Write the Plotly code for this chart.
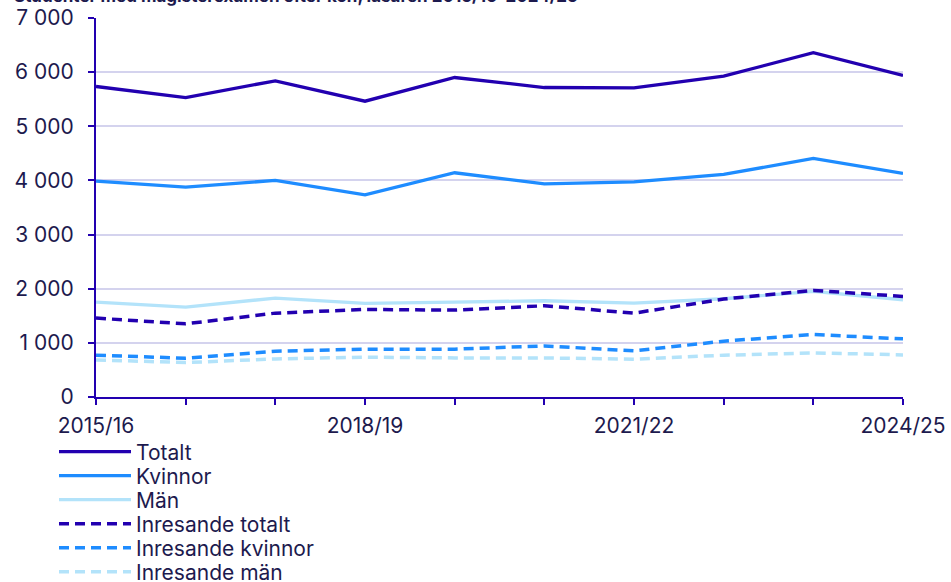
import plotly.graph_objects as go

years = ["2015/16", "2016/17", "2017/18", "2018/19", "2019/20", "2020/21",
         "2021/22", "2022/23", "2023/24", "2024/25"]
totalt = [5735, 5531, 5840, 5463, 5901, 5716, 5710, 5926, 6358, 5938]
kvinnor = [3988, 3877, 4000, 3735, 4142, 3938, 3975, 4111, 4407, 4130]
man = [1753, 1660, 1827, 1728, 1753, 1778, 1735, 1815, 1950, 1796]
inr_totalt = [1457, 1352, 1549, 1617, 1605, 1685, 1549, 1809, 1969, 1858]
inr_kvinnor = [772, 716, 846, 883, 883, 944, 852, 1031, 1154, 1074]
inr_man = [685, 636, 704, 735, 722, 722, 698, 772, 815, 778]
y_ticks = [0, 1000, 2000, 3000, 4000, 5000, 6000, 7000]
x_labels_shown = ["2015/16", "2018/19", "2021/22", "2024/25"]
title_text = "Studenter med magisterexamen efter kön, läsåren 2015/16–2024/25"

C_DARK = "#2200b0"
C_MID = "#1e8cff"
C_LIGHT = "#b3e3fa"
TXT = "#1d1a4e"
FS = 21

series = [
    ("Totalt", totalt, C_DARK, "solid"),
    ("Kvinnor", kvinnor, C_MID, "solid"),
    ("Män", man, C_LIGHT, "solid"),
    ("Inresande totalt", inr_totalt, C_DARK, "10px,6px"),
    ("Inresande kvinnor", inr_kvinnor, C_MID, "10px,6px"),
    ("Inresande män", inr_man, C_LIGHT, "10px,6px"),
]

# plot area geometry (px)
L, R, T, B = 96, 48, 18, 185
W, H = 951, 582
ph = H - T - B
pw = W - L - R

fig = go.Figure()
legend_layout = {}
for i, (name, vals, col, dash) in enumerate(series):
    lname = "legend" if i == 0 else f"legend{i + 1}"
    fig.add_trace(go.Scatter(
        x=list(range(len(years))), y=vals, name=name, mode="lines",
        line=dict(color=col, width=3.5 if dash != "solid" else 3.3, dash=dash),
        legend=lname,
    ))
    row_px = 452 + 24 * i
    legend_layout[lname] = dict(
        x=(54 - L) / pw, xanchor="left",
        y=(H - B - row_px) / ph, yanchor="middle",
        font=dict(family="Inter", size=FS, color=TXT),
        itemwidth=72, bgcolor="rgba(0,0,0,0)",
    )

fig.update_layout(
    width=W, height=H,
    margin=dict(l=L, r=R, t=T, b=B, autoexpand=False),
    paper_bgcolor="white", plot_bgcolor="white",
    font=dict(family="Inter", size=FS, color=TXT),
    separators=", ",
    showlegend=True,
    **legend_layout,
)
fig.add_annotation(
    text="<b>" + title_text + "</b>",
    xref="paper", yref="paper", x=(12 - L) / pw, y=1, xanchor="left", yanchor="middle",
    yshift=T + 4, showarrow=False,
    font=dict(family="Inter", size=17, color=TXT),
)

fig.update_xaxes(
    range=[0, len(years) - 1],
    tickmode="array",
    tickvals=list(range(len(years))),
    ticktext=[y if y in x_labels_shown else "" for y in years],
    showline=True, linecolor=C_DARK, linewidth=2,
    ticks="outside", ticklen=6, tickcolor=C_DARK, tickwidth=2,
    showgrid=False, zeroline=False,
    tickfont=dict(size=FS, color=TXT),
    ticklabelstandoff=3,
)
fig.update_yaxes(
    range=[0, 7000],
    tickmode="array", tickvals=y_ticks,
    tickformat=",d",
    showline=True, linecolor=C_DARK, linewidth=2,
    ticks="outside", ticklen=6, tickcolor=C_DARK, tickwidth=2,
    showgrid=True, gridcolor="#d4d3ee", gridwidth=2,
    zeroline=False,
    tickfont=dict(size=FS, color=TXT),
    ticklabelstandoff=10,
)

fig.write_html("out.html",
               config={"displayModeBar": False},
               post_script="document.body.style.margin='0';document.body.style.overflow='hidden';")
